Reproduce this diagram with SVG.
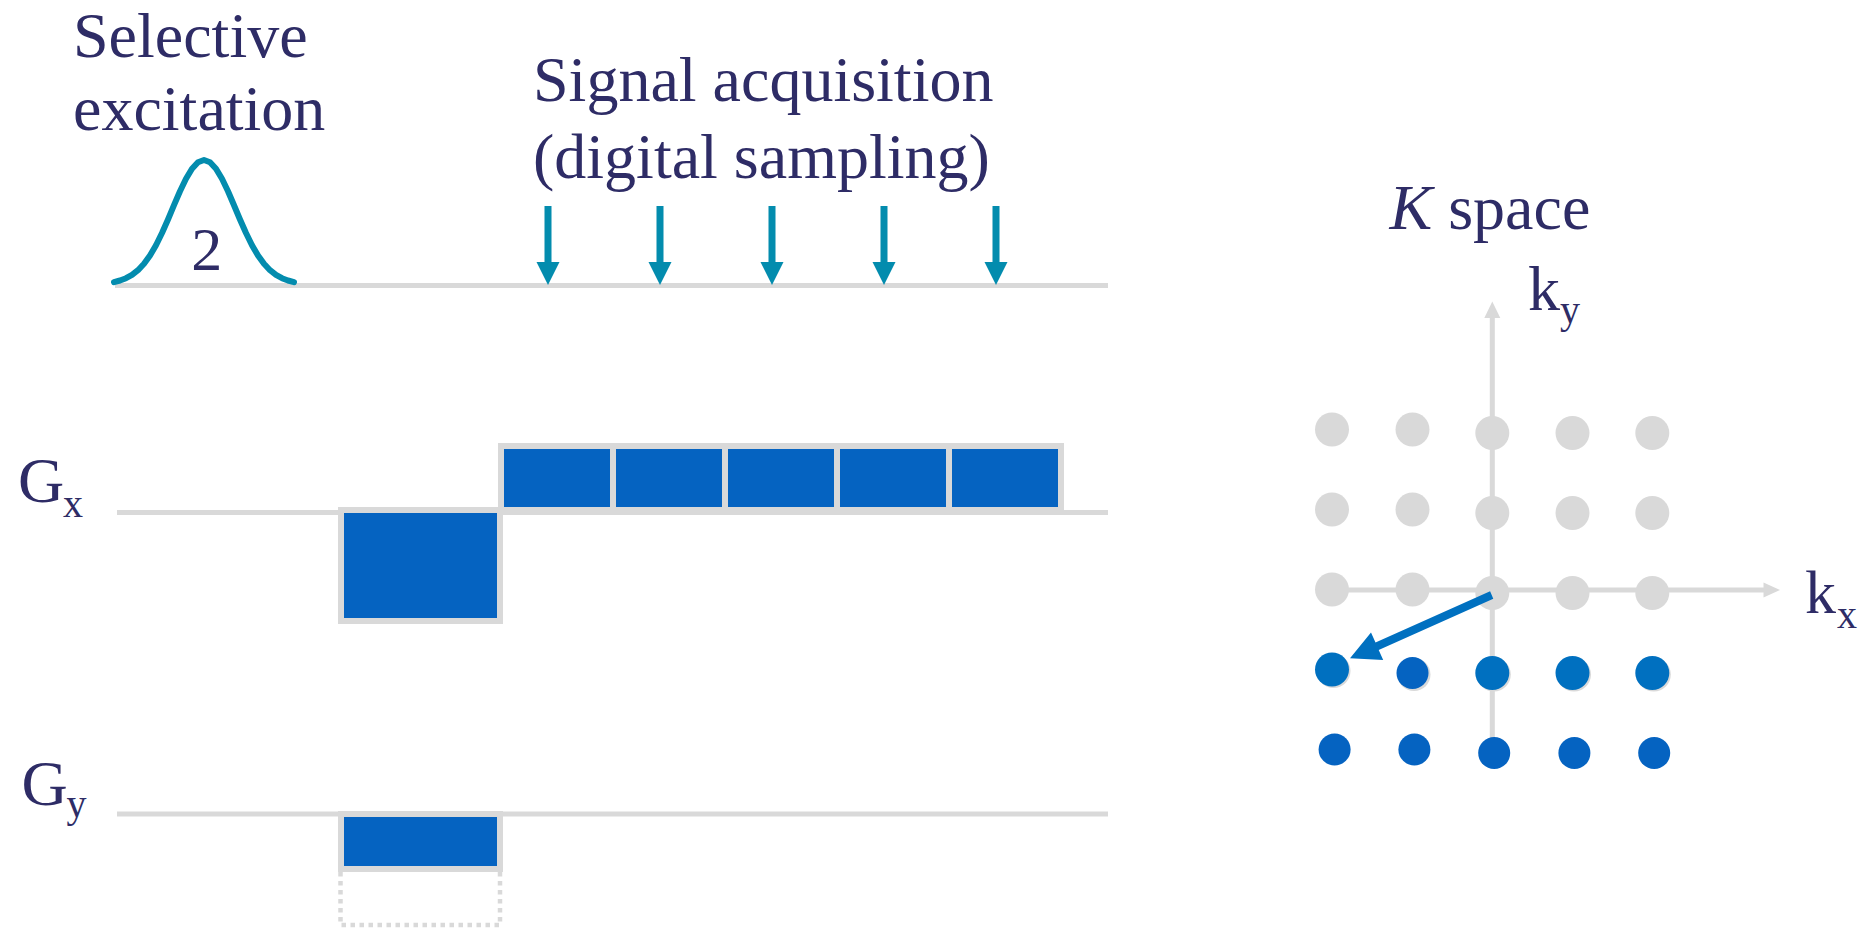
<svg xmlns="http://www.w3.org/2000/svg" xmlns:xlink="http://www.w3.org/1999/xlink" width="1862" height="930" viewBox="0 0 1862 930">
<style>
  .t { font-family: "Liberation Serif", "Times New Roman", serif; fill: #2e2c66; }
  .big { font-size: 64px; }
  .sub { font-size: 40px; }
  .base { stroke: #d9d9d9; stroke-width: 5; fill: none; }
  .lobe { fill: #0563c1; stroke: #d9d9d9; stroke-width: 6; }
  .dot { fill: #d9d9d9; }
  .blue1 { fill: #0070c0; }
  .blue2 { fill: #0563c1; }
</style>
<defs>
  <path id="acqArrow" d="M-3.5,206 H3.5 V262 H11.5 L0,285 L-11.5,262 H-3.5 Z" fill="#038cae"/>
</defs>
<rect width="1862" height="930" fill="#ffffff"/>

<g id="baselines">
  <line class="base" x1="115" y1="285.5" x2="1108" y2="285.5"/>
  <line class="base" x1="117" y1="512.5" x2="1108" y2="512.5"/>
  <line class="base" x1="117" y1="814" x2="1108" y2="814"/>
</g>

<g id="label-selective">
  <text class="t big" x="73" y="57">Selective</text>
  <text class="t big" x="73" y="130">excitation</text>
</g>

<g id="rf-pulse">
  <polyline fill="none" stroke="#038cae" stroke-width="6" stroke-linecap="round" stroke-linejoin="round"
    points="114,282.2 120,280.5 126,278.2 132,274.9 138,270.2 144,263.8 150,255.5 156,245.2 162,233 168,219.5 174,205.2 180,191.2 186,178.7 192,168.7 198,162.2 204,160 210,162.2 216,168.7 222,178.7 228,191.2 234,205.2 240,219.5 246,233 252,245.2 258,255.5 264,263.8 270,270.2 276,274.9 282,278.2 288,280.5 294,282.2"/>
  <text class="t" x="206.7" y="270" font-size="62" text-anchor="middle">2</text>
</g>

<g id="label-signal">
  <text class="t big" x="533" y="101">Signal acquisition</text>
  <text class="t big" x="533" y="178">(digital sampling)</text>
</g>

<g id="sampling-arrows">
  <use xlink:href="#acqArrow" x="548"/>
  <use xlink:href="#acqArrow" x="660"/>
  <use xlink:href="#acqArrow" x="772"/>
  <use xlink:href="#acqArrow" x="884"/>
  <use xlink:href="#acqArrow" x="996"/>
</g>

<g id="gx">
  <text class="t big" x="18" y="502">G</text>
  <text class="t sub" x="63" y="517">x</text>
  <rect class="lobe" x="341" y="510" width="159" height="111"/>
  <rect class="lobe" x="501" y="446" width="112" height="64"/>
  <rect class="lobe" x="613" y="446" width="112" height="64"/>
  <rect class="lobe" x="725" y="446" width="112" height="64"/>
  <rect class="lobe" x="837" y="446" width="112" height="64"/>
  <rect class="lobe" x="949" y="446" width="112" height="64"/>
</g>

<g id="gy">
  <text class="t big" x="21.5" y="805">G</text>
  <text class="t sub" x="66.5" y="817">y</text>
  <rect class="lobe" x="341" y="814" width="159" height="55"/>
  <path d="M340.5,872 V925 H500 V872" fill="none" stroke="#d9d9d9" stroke-width="4.5" stroke-dasharray="4.5 4.5"/>
</g>

<g id="kspace-title">
  <text class="t big" x="1389.5" y="229"><tspan font-style="italic">K</tspan> space</text>
</g>

<g id="kspace-axes">
  <line class="base" x1="1492.3" y1="745" x2="1492.3" y2="315"/>
  <polygon points="1492.3,301.5 1500.3,318 1484.3,318" fill="#d9d9d9"/>
  <line class="base" x1="1332" y1="590" x2="1766" y2="590"/>
  <polygon points="1780,590 1763.5,582.5 1763.5,597.5" fill="#d9d9d9"/>
  <text class="t big" x="1528" y="310">k</text>
  <text class="t sub" x="1560" y="323">y</text>
  <text class="t" x="1805" y="613" font-size="62">k</text>
  <text class="t sub" x="1837" y="628">x</text>
</g>

<g id="kspace-grid">
  <circle class="dot" cx="1332" cy="429.5" r="17"/>
  <circle class="dot" cx="1412.5" cy="429.5" r="17"/>
  <circle class="dot" cx="1492.3" cy="433" r="17"/>
  <circle class="dot" cx="1572.5" cy="433" r="17"/>
  <circle class="dot" cx="1652.3" cy="433" r="17"/>
  <circle class="dot" cx="1332" cy="509.5" r="17"/>
  <circle class="dot" cx="1412.5" cy="509.5" r="17"/>
  <circle class="dot" cx="1492.3" cy="513" r="17"/>
  <circle class="dot" cx="1572.5" cy="513" r="17"/>
  <circle class="dot" cx="1652.3" cy="513" r="17"/>
  <circle class="dot" cx="1332" cy="589.5" r="17"/>
  <circle class="dot" cx="1412.5" cy="589.5" r="17"/>
  <circle class="dot" cx="1492.3" cy="593" r="17"/>
  <circle class="dot" cx="1572.5" cy="593" r="17"/>
  <circle class="dot" cx="1652.3" cy="593" r="17"/>
  <circle class="dot" cx="1333.5" cy="671" r="17"/>
  <circle class="dot" cx="1414" cy="674.5" r="16.5"/>
  <circle class="dot" cx="1493.8" cy="674.5" r="17"/>
  <circle class="dot" cx="1574" cy="674.5" r="17"/>
  <circle class="dot" cx="1653.8" cy="674.5" r="17"/>
  <circle class="blue1" cx="1332" cy="669.5" r="17"/>
  <circle class="blue2" cx="1412.5" cy="673" r="16"/>
  <circle class="blue1" cx="1492.3" cy="673" r="17"/>
  <circle class="blue1" cx="1572.5" cy="673" r="17"/>
  <circle class="blue1" cx="1652.3" cy="673" r="17"/>
  <circle class="blue2" cx="1334.6" cy="749.5" r="16"/>
  <circle class="blue2" cx="1414.4" cy="749.5" r="16"/>
  <circle class="blue2" cx="1494.2" cy="753" r="16"/>
  <circle class="blue2" cx="1574.4" cy="753" r="16"/>
  <circle class="blue2" cx="1654.2" cy="753" r="16"/>
</g>

<g id="connectors">
  <polygon fill="#0070c0" points="1493.3,598.7 1490.1,591.3 1375.5,642.5 1371,632.5 1350,658.3 1383.2,659.9 1378.7,649.9"/>
</g>
</svg>
